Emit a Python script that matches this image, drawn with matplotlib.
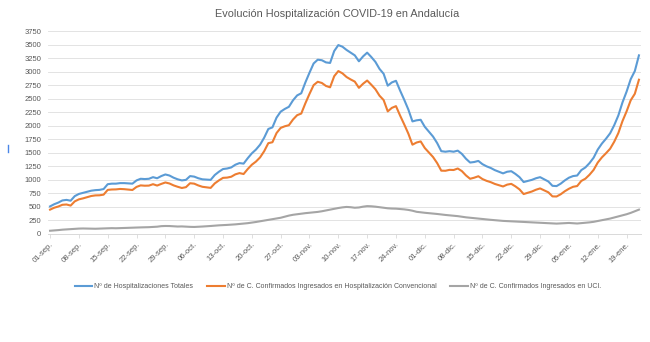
import numpy as np
import matplotlib
matplotlib.use('Agg')
import matplotlib.pyplot as plt
from matplotlib.lines import Line2D

plt.rcParams['font.family'] = ['Liberation Sans', 'DejaVu Sans']

# Daily values from 01-sep to 22-ene
totales = [510, 550, 580, 620, 630, 615, 700, 740, 760, 780, 800, 810, 815, 830, 920, 930,
           930, 940, 940, 935, 930, 990, 1020, 1015, 1020, 1050, 1030, 1070, 1100, 1080, 1040, 1010,
           990, 1000, 1070, 1060, 1030, 1010, 1005, 1000, 1090, 1150, 1200, 1210, 1230, 1280, 1310, 1300,
           1400, 1490, 1560, 1650, 1780, 1940, 1970, 2150, 2260, 2310, 2350, 2470, 2560, 2600, 2800, 2980,
           3150, 3220, 3210, 3170, 3160, 3380, 3490, 3460, 3400, 3350, 3300, 3190, 3280, 3350, 3270, 3180,
           3050, 2960, 2740, 2800, 2830, 2650, 2480, 2300, 2080, 2100, 2110, 1980, 1890, 1800, 1680, 1530,
           1520, 1530, 1520, 1540, 1480, 1390, 1320, 1330, 1350, 1290, 1250, 1220, 1180, 1150, 1120, 1150,
           1160, 1110, 1050, 960, 980, 1000, 1030, 1050, 1010, 970, 890, 885, 930, 990, 1040, 1070,
           1080, 1180, 1230, 1310, 1410, 1560, 1670, 1760, 1860, 2010, 2190, 2430, 2630, 2860, 3010, 3300]

convencional = [450, 485, 508, 540, 545, 525, 603, 640, 658, 680, 702, 713, 715, 727, 815, 822,
                824, 832, 828, 821, 813, 870, 898, 892, 894, 920, 895, 925, 952, 933, 898, 872,
                850, 865, 938, 930, 897, 872, 863, 852, 935, 990, 1037, 1042, 1058, 1102, 1125, 1108,
                1200, 1280, 1338, 1415, 1530, 1678, 1695, 1865, 1960, 1990, 2010, 2115, 2195, 2225, 2415, 2588,
                2750, 2812, 2790, 2735, 2710, 2915, 3010, 2968, 2900, 2855, 2815, 2700, 2775, 2835, 2758, 2675,
                2555, 2475, 2265, 2330, 2362, 2188, 2025, 1855, 1650, 1690, 1710, 1588, 1505, 1422, 1310, 1170,
                1168, 1185, 1182, 1210, 1162, 1082, 1020, 1040, 1067, 1015, 982, 958, 925, 902, 878, 912,
                926, 880, 824, 738, 762, 785, 818, 842, 806, 770, 695, 693, 734, 790, 836, 872,
                886, 980, 1022, 1095, 1185, 1320, 1415, 1492, 1575, 1705, 1865, 2085, 2265, 2470, 2590, 2850]

uci = [60, 65, 72, 80, 85, 90, 97, 100, 102, 100, 98, 97, 100, 103, 105, 108,
       106, 108, 112, 114, 117, 120, 122, 123, 126, 130, 135, 145, 148, 147, 142, 138,
       140, 135, 132, 130, 133, 138, 142, 148, 155, 160, 163, 168, 172, 178, 185, 192,
       200, 210, 222, 235, 250, 262, 275, 285, 300, 320, 340, 355, 365, 375, 385, 392,
       400, 408, 420, 435, 450, 465, 480, 492, 500, 495, 485, 490, 505, 515, 512, 505,
       495, 485, 475, 470, 468, 462, 455, 445, 430, 410, 400, 392, 385, 378, 370, 360,
       352, 345, 338, 330, 318, 308, 300, 290, 283, 275, 268, 262, 255, 248, 242, 238,
       234, 230, 226, 222, 218, 215, 212, 208, 204, 200, 195, 192, 196, 200, 204, 198,
       194, 200, 208, 215, 225, 240, 255, 268, 285, 305, 325, 345, 365, 390, 420, 450]

tick_labels = ['01-sep.', '08-sep.', '15-sep.', '22-sep.', '29-sep.', '06-oct.', '13-oct.',
               '20-oct.', '27-oct.', '03-nov.', '10-nov.', '17-nov.', '24-nov.', '01-dic.',
               '08-dic.', '15-dic.', '22-dic.', '29-dic.', '05-ene.', '12-ene.', '19-ene.']

series_names = ['Nº de Hospitalizaciones Totales',
                'Nº de C. Confirmados Ingresados en Hospitalización Convencional',
                'Nº de C. Confirmados Ingresados en UCI.']

x = np.arange(len(totales))

fig = plt.figure(figsize=(6.5, 3.42), dpi=100)
ax = fig.add_axes([48 / 650, 1 - 234 / 342, 593 / 650, 203 / 342])

ax.plot(x, totales, color='#5B9BD5', lw=1.5, label=series_names[0])
ax.plot(x, convencional, color='#ED7D31', lw=1.5, label=series_names[1])
ax.plot(x, uci, color='#A5A5A5', lw=1.5, label=series_names[2])

ax.set_ylim(0, 3750)
ax.set_yticks(np.arange(0, 3751, 250))
ax.set_xlim(-0.5, len(totales) - 0.5)
ax.set_xticks(np.arange(0, 7 * len(tick_labels), 7))
ax.set_xticklabels(tick_labels, rotation=45, ha='right', rotation_mode='anchor')

ax.grid(axis='y', color='#e3e3e3', lw=0.7)
ax.set_axisbelow(True)
for s in ['top', 'right', 'left']:
    ax.spines[s].set_visible(False)
ax.spines['bottom'].set_color('#d9d9d9')
ax.spines['bottom'].set_linewidth(0.7)
ax.tick_params(axis='y', length=0, labelsize=5.5, colors='#595959', pad=5)
ax.tick_params(axis='x', length=3, width=0.6, color='#d9d9d9', labelsize=5.5,
               labelcolor='#595959', pad=2)

fig.text(0.518, 1 - 14 / 342, 'Evolución Hospitalización COVID-19 en Andalucía',
         ha='center', va='center', fontsize=7.8, color='#595959')

fig.legend(loc='center', bbox_to_anchor=(0.52, 1 - 287 / 342), ncol=3, frameon=False,
           fontsize=5, handlelength=2.5, columnspacing=2.0, handletextpad=0.3,
           labelcolor='#595959')

# small blue mark at left edge
fig.add_artist(Line2D([8 / 650, 8 / 650], [1 - 152 / 342, 1 - 145 / 342], color='#4a86e8', lw=1))

fig.savefig('out.png', dpi=100)
